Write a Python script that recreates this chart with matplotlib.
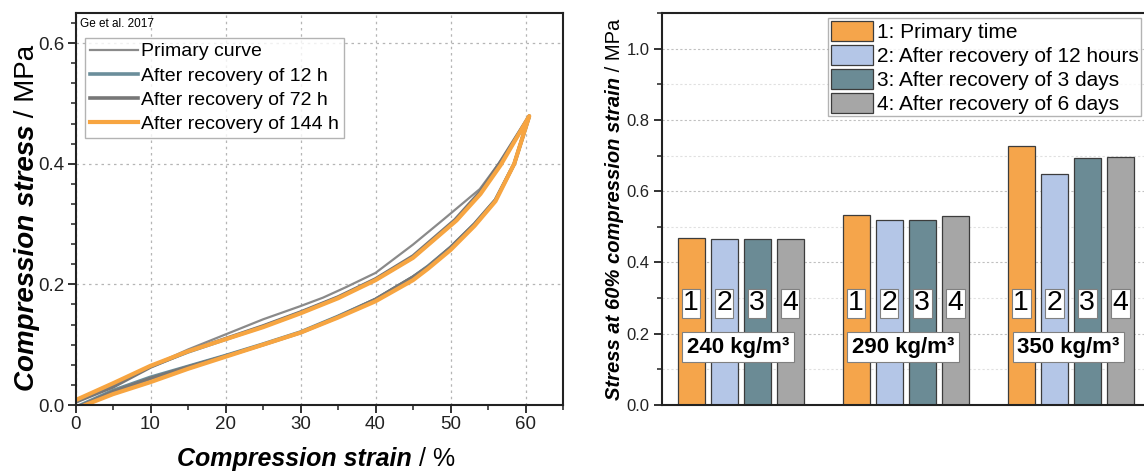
import matplotlib
matplotlib.use('Agg')
import matplotlib.pyplot as plt
from matplotlib.ticker import MultipleLocator
import numpy as np

plt.rcParams.update({'font.family': ['Liberation Sans', 'DejaVu Sans'], 'font.size': 12})

# ---------------- left: loading / unloading loops (Ge et al. 2017) ----------------
series_names = ['Primary curve', 'After recovery of 12 h', 'After recovery of 72 h', 'After recovery of 144 h']

# loading branch (upper)
load_x = {
    'Primary curve':           [0, 5, 10, 15, 20, 25, 30, 33, 36, 40, 45, 49, 53.9, 57, 60.5],
    'After recovery of 12 h':  [0, 5, 10, 15, 20, 25, 30, 35, 40, 45, 50.8, 54, 56.7, 60.5],
    'After recovery of 72 h':  [0, 5, 10, 15, 20, 25, 30, 35, 40, 45, 50.6, 54, 56.5, 60.5],
    'After recovery of 144 h': [0, 5, 10, 15, 20, 25, 30, 35, 40, 45, 50.8, 54, 56.7, 60.5],
}
load_y = {
    'Primary curve':           [0.004, 0.034, 0.064, 0.092, 0.117, 0.142, 0.164, 0.178, 0.195, 0.219, 0.266, 0.307, 0.358, 0.41, 0.479],
    'After recovery of 12 h':  [0.006, 0.033, 0.064, 0.088, 0.109, 0.130, 0.153, 0.178, 0.208, 0.245, 0.307, 0.352, 0.40, 0.479],
    'After recovery of 72 h':  [0.005, 0.030, 0.063, 0.089, 0.110, 0.131, 0.154, 0.179, 0.209, 0.247, 0.307, 0.354, 0.40, 0.479],
    'After recovery of 144 h': [0.008, 0.036, 0.065, 0.089, 0.109, 0.129, 0.152, 0.177, 0.207, 0.244, 0.306, 0.350, 0.398, 0.479],
}
# unloading branch (lower)
unload_x = {
    'Primary curve':           [60.5, 58.5, 56, 53.2, 50, 47, 45, 40, 35, 30, 25, 20, 15, 10, 5, 1.0],
    'After recovery of 12 h':  [60.5, 58.5, 56, 53.2, 50, 47, 45, 40, 35, 30, 25, 20, 15, 10, 5, 0.7],
    'After recovery of 72 h':  [60.5, 58.5, 56, 53.2, 50, 47, 45, 40, 35, 30, 25, 20, 15, 10, 5, 1.0],
    'After recovery of 144 h': [60.5, 58.5, 56, 53.2, 50, 47, 45, 40, 35, 30, 25, 20, 15, 10, 5, 1.3],
}
unload_y = {
    'Primary curve':           [0.479, 0.40, 0.34, 0.300, 0.262, 0.230, 0.213, 0.176, 0.147, 0.120, 0.100, 0.082, 0.064, 0.044, 0.022, 0.0],
    'After recovery of 12 h':  [0.479, 0.40, 0.34, 0.300, 0.261, 0.230, 0.212, 0.175, 0.147, 0.121, 0.101, 0.082, 0.064, 0.046, 0.024, 0.0],
    'After recovery of 72 h':  [0.479, 0.40, 0.34, 0.300, 0.261, 0.229, 0.212, 0.175, 0.146, 0.120, 0.100, 0.081, 0.063, 0.044, 0.022, 0.0],
    'After recovery of 144 h': [0.479, 0.40, 0.338, 0.297, 0.257, 0.226, 0.207, 0.172, 0.145, 0.120, 0.100, 0.080, 0.060, 0.038, 0.018, 0.0],
}
line_colors = ['#8a8a8a', '#6b8e9b', '#777777', '#f7a541']
line_widths = [1.6, 2.6, 2.6, 3.0]

# ---------------- right: stress at 60% strain ----------------
densities = ['240 kg/m³', '290 kg/m³', '350 kg/m³']
bar_labels = ['1: Primary time', '2: After recovery of 12 hours',
              '3: After recovery of 3 days', '4: After recovery of 6 days']
stress_60 = [
    [0.469, 0.466, 0.466, 0.467],   # 240 kg/m3
    [0.532, 0.518, 0.520, 0.530],   # 290 kg/m3
    [0.726, 0.647, 0.692, 0.697],   # 350 kg/m3
]
bar_colors = ['#f5a54b', '#b4c6e7', '#6b8b95', '#a6a6a6']

W, H = 1144, 471
fig = plt.figure(figsize=(W / 100, H / 100), dpi=100)

# ----- left axes
ax1 = fig.add_axes([75.5 / W, 1 - 405 / H, (563 - 75.5) / W, (405 - 13) / H])
ax1.set_xlim(0, 65)
ax1.set_ylim(0, 0.65)
ax1.xaxis.set_major_locator(MultipleLocator(10))
ax1.xaxis.set_minor_locator(MultipleLocator(5))
ax1.yaxis.set_major_locator(MultipleLocator(0.2))
ax1.yaxis.set_minor_locator(MultipleLocator(0.2 / 6))
ax1.grid(True, which='major', linestyle=(0, (2, 3)), color='#b5b5b5', linewidth=0.9)
ax1.set_axisbelow(True)
for name, c, lw in zip(series_names, line_colors, line_widths):
    xs = load_x[name] + unload_x[name][1:]
    ys = load_y[name] + unload_y[name][1:]
    ax1.plot(xs, ys, color=c, linewidth=lw, label=name, solid_joinstyle='round')
ax1.text(0.01, 0.988, 'Ge et al. 2017', transform=ax1.transAxes, fontsize=8.5, va='top', ha='left')
leg1 = ax1.legend(loc='upper left', bbox_to_anchor=(85 / W, 1 - 38 / H), bbox_transform=fig.transFigure,
                  fontsize=14, frameon=True, fancybox=False, edgecolor='#a0a0a0', borderaxespad=0,
                  handlelength=2.45, handletextpad=0.2, labelspacing=0.34, borderpad=0.25)
leg1.get_frame().set_linewidth(1.0)

# ----- right axes
ax2 = fig.add_axes([662 / W, 1 - 405 / H, (1152 - 662) / W, (405 - 13) / H])
ax2.set_ylim(0, 1.1)
ax2.set_xlim(-0.88, 13.96)
ax2.yaxis.set_major_locator(MultipleLocator(0.2))
ax2.yaxis.set_minor_locator(MultipleLocator(0.1))
ax2.grid(True, axis='y', which='major', linestyle=(0, (2, 2)), color='#c0c0c0', linewidth=0.8)
ax2.grid(True, axis='y', which='minor', linestyle=(0, (2, 2)), color='#e0e0e0', linewidth=0.8)
ax2.set_axisbelow(True)
ax2.set_xticks([])
for g, vals in enumerate(stress_60):
    for i, v in enumerate(vals):
        xpos = g * 5 + i
        ax2.bar(xpos, v, width=0.82, color=bar_colors[i], edgecolor='#3c3c3c', linewidth=0.9,
                label=bar_labels[i] if g == 0 else None, zorder=2)
        ax2.text(xpos, 0.285, str(i + 1), fontsize=20.5, ha='center', va='center', zorder=4,
                 bbox=dict(boxstyle='square,pad=0.05', facecolor='white', edgecolor='#808080', linewidth=0.8))
    ax2.text(g * 5 + 1.42, 0.162, densities[g], fontsize=16, fontweight='bold', ha='center', va='center', zorder=5,
             bbox=dict(boxstyle='square,pad=0.2', facecolor='white', edgecolor='#808080', linewidth=0.8))
leg2 = ax2.legend(loc='upper right', bbox_to_anchor=(1141 / W, 1 - 18 / H), bbox_transform=fig.transFigure,
                  fontsize=15, frameon=True, fancybox=False, edgecolor='#a0a0a0', borderaxespad=0,
                  handlelength=2.0, handleheight=1.1, handletextpad=0.2, labelspacing=0.14, borderpad=0.12)
leg2.get_frame().set_linewidth(1.0)

for ax in (ax1, ax2):
    for sp in ax.spines.values():
        sp.set_linewidth(1.5)
        sp.set_color('#222222')
    ax.tick_params(which='major', direction='out', length=6, width=1.3, colors='#222222')
    ax.tick_params(which='minor', direction='out', length=3.5, width=1.1, colors='#222222')
ax1.tick_params(which='major', labelsize=13.5, pad=2)
ax2.tick_params(which='major', labelsize=12, pad=3)
ax2.tick_params(axis='x', which='both', length=0)
ax1.set_yticklabels(['%.1f' % t for t in ax1.get_yticks()])
ax2.set_yticklabels(['%.1f' % t for t in ax2.get_yticks()])


def mixed_label(parts, x, y, rotation=0, size=19):
    """parts: list of (text, weight, style); x,y in figure pixels = centre of whole label (along its direction)."""
    renderer = fig.canvas.get_renderer()
    texts, widths = [], []
    for s, weight, style in parts:
        t = fig.text(0, 0, s, fontsize=size, fontweight=weight, fontstyle=style,
                     ha='left', va='baseline', transform=None)
        widths.append(t.get_window_extent(renderer).width)
        texts.append(t)
    total = sum(widths)
    pos = -total / 2
    for t, w in zip(texts, widths):
        if rotation == 0:
            t.set_position((x + pos, y))
        else:
            t.set_rotation(90)
            t.set_rotation_mode('anchor')
            t.set_position((x, y + pos))
        pos += w


mixed_label([('Compression strain', 'bold', 'italic'), (' / %', 'normal', 'normal')], 316, H - 466, size=18)
mixed_label([('Compression stress', 'bold', 'italic'), (' / MPa', 'normal', 'normal')], 34, H - 218, rotation=90, size=20)
mixed_label([('Stress at 60% compression strain', 'bold', 'italic'), (' / MPa', 'normal', 'normal')], 620, H - 209,
            rotation=90, size=14.5)

fig.savefig('out.png', dpi=100)
